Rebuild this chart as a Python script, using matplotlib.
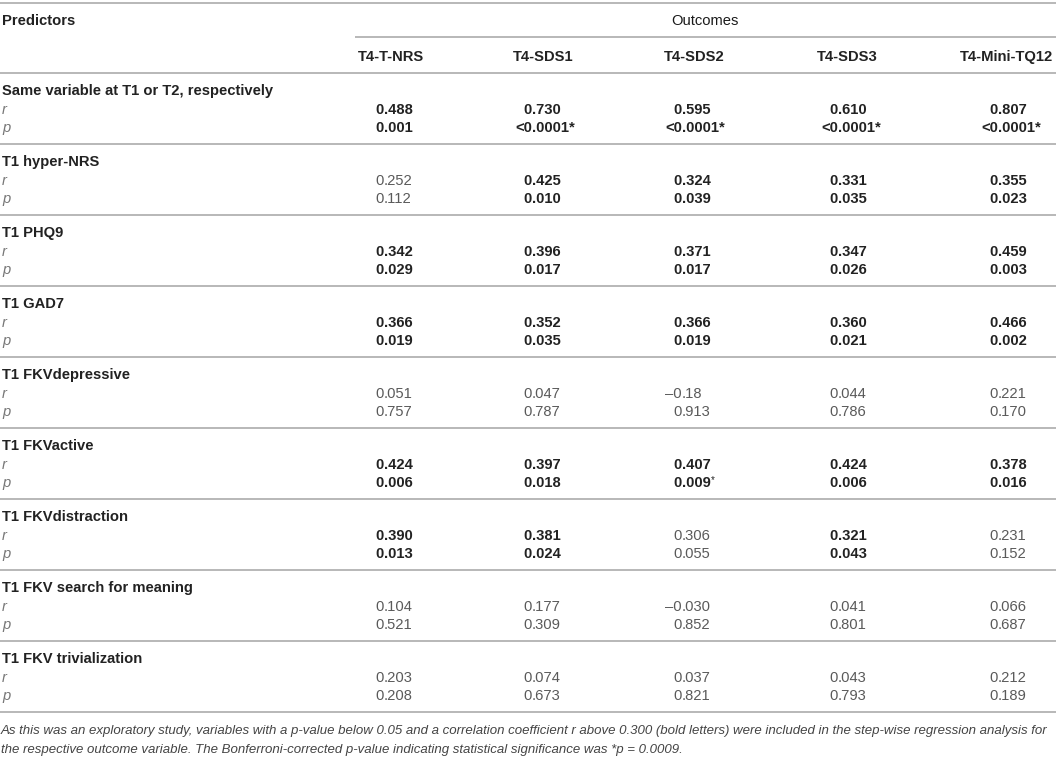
import matplotlib.pyplot as plt

plt.rcParams['font.family'] = ['Liberation Sans', 'DejaVu Sans']

outcomes = ['T4-T-NRS', 'T4-SDS1', 'T4-SDS2', 'T4-SDS3', 'T4-Mini-TQ12']
predictors = ['Same variable at T1 or T2, respectively', 'T1 hyper-NRS', 'T1 PHQ9',
              'T1 GAD7', 'T1 FKVdepressive', 'T1 FKVactive', 'T1 FKVdistraction',
              'T1 FKV search for meaning', 'T1 FKV trivialization']
r_vals = [
    ['0.488', '0.730', '0.595', '0.610', '0.807'],
    ['0.252', '0.425', '0.324', '0.331', '0.355'],
    ['0.342', '0.396', '0.371', '0.347', '0.459'],
    ['0.366', '0.352', '0.366', '0.360', '0.466'],
    ['0.051', '0.047', '–0.18', '0.044', '0.221'],
    ['0.424', '0.397', '0.407', '0.424', '0.378'],
    ['0.390', '0.381', '0.306', '0.321', '0.231'],
    ['0.104', '0.177', '–0.030', '0.041', '0.066'],
    ['0.203', '0.074', '0.037', '0.043', '0.212'],
]
p_vals = [
    ['0.001', '<0.0001*', '<0.0001*', '<0.0001*', '<0.0001*'],
    ['0.112', '0.010', '0.039', '0.035', '0.023'],
    ['0.029', '0.017', '0.017', '0.026', '0.003'],
    ['0.019', '0.035', '0.019', '0.021', '0.002'],
    ['0.757', '0.787', '0.913', '0.786', '0.170'],
    ['0.006', '0.018', '0.009*', '0.006', '0.016'],
    ['0.013', '0.024', '0.055', '0.043', '0.152'],
    ['0.521', '0.309', '0.852', '0.801', '0.687'],
    ['0.208', '0.673', '0.821', '0.793', '0.189'],
]
footnote = ["As this was an exploratory study, variables with a p-value below 0.05 and a correlation "
            "coefficient r above 0.300 (bold letters) were included in the step-wise regression analysis for",
            "the respective outcome variable. The Bonferroni-corrected p-value indicating statistical "
            "significance was *p = 0.0009."]

head_x = [391, 543, 694, 847, 1007]
dec_x = [384, 532, 682, 838, 998]
FS = 10.6
LINE = '#ababab'
DARK = '#222222'
LIGHT = '#5a5a5a'


def num(s):
    return float(s.replace('<', '').replace('*', '').replace('–', '-'))


fig = plt.figure(figsize=(10.56, 7.58), dpi=100)
ax = fig.add_axes([0, 0, 1, 1])
ax.set_xlim(0, 1056)
ax.set_ylim(758, 0)
ax.axis('off')


def hline(y, x0=0, x1=1056):
    ax.plot([x0, x1], [y, y], color=LINE, lw=1.2, solid_capstyle='butt')


def value(x, y, s, bold):
    w = 'bold' if bold else 'normal'
    c = DARK if bold else LIGHT
    star = ''
    if s.endswith('*') and not s.startswith('<'):
        s, star = s[:-1], '*'
    a, b = s.split('.', 1)
    ax.text(x, y, a, ha='right', va='center', fontsize=FS, fontweight=w, color=c)
    t = ax.text(x, y, '.' + b, ha='left', va='center', fontsize=FS, fontweight=w, color=c)
    if star:
        fig.canvas.draw()
        bb = t.get_window_extent()
        xe = ax.transData.inverted().transform((bb.x1, 0))[0]
        ax.text(xe, y - 3, star, ha='left', va='center', fontsize=7, color=c)


# header
hline(3)
ax.text(2, 21, 'Predictors', ha='left', va='center', fontsize=FS, fontweight='bold', color=DARK)
ax.text(705, 21, 'Outcomes', ha='center', va='center', fontsize=FS, color='#1a1a1a')
hline(37, 355)
for x, name in zip(head_x, outcomes):
    ax.text(x, 57, name, ha='center', va='center', fontsize=FS, fontweight='bold', color=DARK)
hline(73)

top = 73
for i, pred in enumerate(predictors):
    ax.text(2, top + 18, pred, ha='left', va='center', fontsize=FS, fontweight='bold', color=DARK)
    ax.text(2, top + 37, 'r', ha='left', va='center', fontsize=FS, style='italic', color='#777777')
    ax.text(2, top + 55, 'p', ha='left', va='center', fontsize=FS, style='italic', color='#777777')
    for j in range(len(outcomes)):
        bold = num(r_vals[i][j]) > 0.3 and num(p_vals[i][j]) < 0.05
        value(dec_x[j], top + 37, r_vals[i][j], bold)
        value(dec_x[j], top + 55, p_vals[i][j], bold)
    top += 71
    hline(top)

ax.text(1, 731, footnote[0], ha='left', va='center', fontsize=9.5, style='italic', color='#444444')
ax.text(1, 750, footnote[1], ha='left', va='center', fontsize=9.5, style='italic', color='#444444')

fig.savefig('out.png', dpi=100)
